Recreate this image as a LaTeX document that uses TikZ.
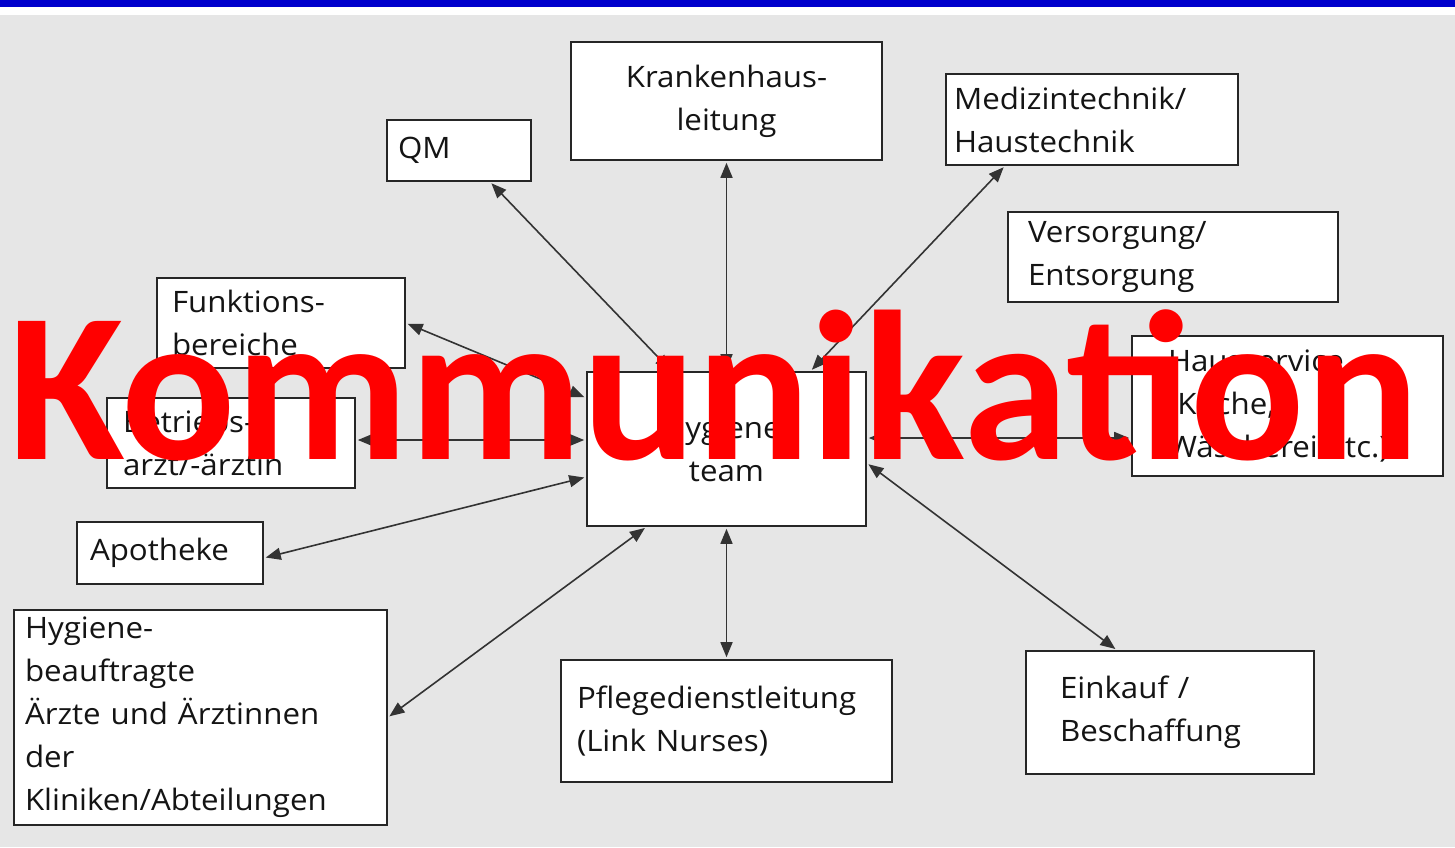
\documentclass[tikz,border=0pt]{standalone}
\usepackage{fontspec}
\usepackage{tikz}
\usetikzlibrary{arrows.meta}
\newfontfamily\boxfont{Open Sans}[FakeStretch=1.06]
\newfontfamily\titlefont{Carlito}
\definecolor{bargray}{HTML}{E6E6E6}
\definecolor{barblue}{HTML}{0000CC}
\definecolor{inkgray}{HTML}{141414}

\begin{document}
\begin{tikzpicture}[x=1pt, y=-1pt,
  box/.style={draw=black!85, line width=1.6pt, fill=white, text=inkgray, align=left,
    inner ysep=0pt, font=\boxfont\fontsize{29.5}{43}\selectfont},
  link/.style={draw=black!80, line width=1.6pt, {Triangle[length=15pt,width=12pt]}-{Triangle[length=15pt,width=12pt]},
    shorten <=2pt, shorten >=2pt}]
\useasboundingbox (0,0) rectangle (1455,847);
\fill [bargray] (0,0) rectangle (1455,847);
\fill [white] (0,0) rectangle (1455,15);
\fill [barblue] (0,0) rectangle (1455,7);
% boxes round the team
\node [box, minimum width=311, minimum height=118, text width=291, inner xsep=10, align=center] (kh) at (726.5,101) {Krankenhaus-\\leitung};
\node [box, minimum width=144, minimum height=61, text width=122, inner xsep=11] (qm) at (459,150.5) {QM};
\node [box, minimum width=292, minimum height=91, text width=276, inner xsep=8] (med) at (1092,119.5) {Medizintechnik/\\Haustechnik};
\node [box, minimum width=330, minimum height=90, text width=290, inner xsep=20] (vers) at (1173,257) {Versorgung/\\Entsorgung};
\node [box, minimum width=248, minimum height=90, text width=218, inner xsep=15] (funk) at (281,323) {Funktions-\\bereiche};
\node [box, minimum width=248, minimum height=90, text width=216, inner xsep=16] (betr) at (231,443) {Betriebs-\\arzt/-ärztin};
\node [box, minimum width=279, minimum height=154, text width=259, inner xsep=10, align=center] (team) at (726.5,449) {Hygiene-\\team};
\node [box, minimum width=311, minimum height=140, text width=239, inner xsep=36] (haus) at (1287.5,406) {Hausservice\\(Küche,\\Wäscherei etc.)};
\node [box, minimum width=186, minimum height=62, text width=160, inner xsep=13] (apo) at (170,553) {Apotheke};
\node [box, minimum width=373, minimum height=215, text width=351, inner xsep=11] (hb) at (200.5,717.5) {Hygiene-\\beauftragte\\Ärzte und Ärztinnen\\der\\Kliniken/Abteilungen};
\node [box, minimum width=331, minimum height=122, text width=299, inner xsep=16] (pfl) at (726.5,721) {Pflegedienstleitung\\(Link Nurses)};
\node [box, minimum width=288, minimum height=123, text width=220, inner xsep=34] (eink) at (1170,712.5) {Einkauf /\\Beschaffung};
% connectors
\draw [link] ([xshift=31pt]qm.south) -- ([xshift=-55pt]team.north);
\draw [link] (kh.south) -- (team.north);
\draw [link] ([xshift=-87pt]med.south) -- ([xshift=84pt]team.north);
\draw [link] (funk.east) -- ([yshift=51pt]team.west);
\draw [link] ([yshift=3pt]betr.east) -- ([yshift=9pt]team.west);
\draw [link] ([yshift=-5pt]apo.east) -- ([yshift=-28pt]team.west);
\draw [link] (hb.east) -- ([xshift=-80pt]team.south);
\draw [link] (team.south) -- (pfl.north);
\draw [link] ([yshift=-14pt]team.east) -- ([xshift=-53pt]eink.north);
\draw [link] ([yshift=11pt]team.east) -- ([yshift=-32pt]haus.west);
% overlay
\node [anchor=base west, inner sep=0pt, text=red, font=\titlefont\bfseries\fontsize{213}{213}\selectfont] (title) at (8,459) {Kommunikation};
\end{tikzpicture}
\end{document}
